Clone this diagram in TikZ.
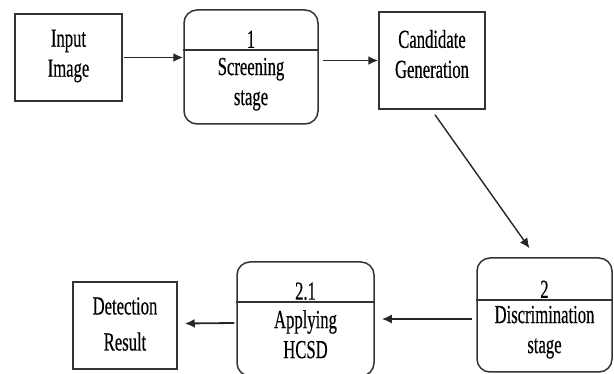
\documentclass[tikz,border=0pt]{standalone}
\usepackage{fontspec}
\setmainfont[FakeStretch=0.64, FakeBold=0.4]{Liberation Serif}
\usetikzlibrary{arrows.meta,calc}
\begin{document}
\begin{tikzpicture}[x=1pt,y=-1pt,
  box/.style={draw=black!80, line width=1.5pt, inner sep=0pt},
  sqbox/.style={box, rectangle},
  procbox/.style={box, rounded corners=13pt},
  divline/.style={draw=black!80, line width=1.5pt},
  txt/.style={align=center, font=\fontsize{26}{30}\selectfont, inner sep=0pt},
  flow/.style={draw=black!85, line width=1.8pt, -{Latex[length=10pt,width=9pt]}}
]
\useasboundingbox (0,0) rectangle (614,374);

% Input Image
\node[sqbox, minimum width=107pt, minimum height=87pt] (in) at (68.5,57.5) {};
\node[txt] (inT) at (68.5,56) {Input\\Image};

% Screening stage
\node[procbox, minimum width=134pt, minimum height=114pt] (scr) at (251,67) {};
\draw[divline] ($(scr.north west)+(0,41)$) -- ($(scr.north east)+(0,41)$);
\node[txt] (scrN) at ($(scr.north)+(0,30)$) {1};
\node[txt] (scrT) at ($(scr.north)+(0,75)$) {Screening\\stage};

% Candidate Generation
\node[sqbox, minimum width=106pt, minimum height=97pt] (cand) at (432,60.5) {};
\node[txt] (candT) at (432,54) {Candidate\\Generation};

% Discrimination stage
\node[procbox, minimum width=135pt, minimum height=114pt] (disc) at (544.5,315) {};
\draw[divline] ($(disc.north west)+(0,43)$) -- ($(disc.north east)+(0,43)$);
\node[txt] (discN) at ($(disc.north)+(0,32)$) {2};
\node[txt] (discT) at ($(disc.north)+(0,75)$) {Discrimination\\stage};

% Applying HCSD
\node[procbox, minimum width=137pt, minimum height=114pt] (app) at (305.5,319) {};
\draw[divline] ($(app.north west)+(0,41)$) -- ($(app.north east)+(0,41)$);
\node[txt] (appN) at ($(app.north)+(0,30)$) {2.1};
\node[txt] (appT) at ($(app.north)+(0,73)$) {Applying\\HCSD};

% Detection Result
\node[sqbox, minimum width=104pt, minimum height=87pt] (det) at (125,325.5) {};
\node[txt, font=\fontsize{26}{36}\selectfont] (detT) at (125,324) {Detection\\Result};

% connectors
\draw[flow] ([xshift=1pt]in.east) -- (scr.west |- in.east);
\draw[flow] ([xshift=4pt]scr.east |- cand.west) -- (cand.west);
\draw[flow, line width=1.4pt] ($(cand.south)+(3,5)$) -- ($(disc.north)+(-15,-9)$);
\draw[flow] ($(disc.west)+(-4,4)$) -- ($(app.east |- disc.west)+(7,4)$);
\draw[flow] ($(app.west)+(-2,4)$) -- ($(det.east)+(7,-2)$);
\end{tikzpicture}
\end{document}
